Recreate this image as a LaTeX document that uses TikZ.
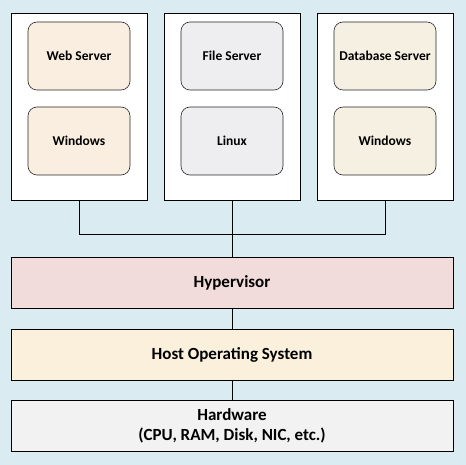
\documentclass[tikz,border=0pt]{standalone}
\usepackage{fontspec}
\setmainfont{Carlito}
\definecolor{bg}{HTML}{DAEBF2}
\definecolor{hyp}{HTML}{F2DCDB}
\definecolor{hos}{HTML}{FAF0DC}
\definecolor{hw}{HTML}{F2F2F2}
\definecolor{peach}{HTML}{F9EEDF}
\definecolor{greyb}{HTML}{EEEEF1}
\definecolor{sand}{HTML}{F5F0E2}
\tikzset{
  x=1pt,y=-1pt,
  vm/.style={draw=black,fill=white,line width=0.8pt},
  inner/.style={draw=black!85,rounded corners=9pt,line width=0.6pt,font=\bfseries\fontsize{13.5}{16}\selectfont},
  layer/.style={draw=black,line width=0.8pt,font=\bfseries\fontsize{17}{20}\selectfont,align=center},
  conn/.style={draw=black,line width=0.8pt}
}
\begin{document}
\begin{tikzpicture}
\fill[bg] (0,0) rectangle (466,465);
\useasboundingbox (0,0) rectangle (466,465);
% VM boxes
\path[vm] (11,13) rectangle (147,200);
\path[vm] (164,13) rectangle (300,200);
\path[vm] (317,13) rectangle (453,200);
\coordinate (vmA) at (79,200);
\coordinate (vmB) at (232,200);
\coordinate (vmC) at (385,200);
% inner boxes
\node[inner,fill=peach,minimum width=102pt,minimum height=68pt] (ws) at (79,56) {Web Server};
\node[inner,fill=peach,minimum width=102pt,minimum height=68pt] (w1) at (79,141) {Windows};
\node[inner,fill=greyb,minimum width=102pt,minimum height=68pt] (fs) at (232,56) {File Server};
\node[inner,fill=greyb,minimum width=102pt,minimum height=68pt] (lx) at (232,141) {Linux};
\node[inner,fill=sand,minimum width=102pt,minimum height=68pt] (ds) at (385,56) {Database Server};
\node[inner,fill=sand,minimum width=102pt,minimum height=68pt] (w2) at (385,141) {Windows};
% layers
\node[layer,fill=hyp,minimum width=442pt,minimum height=51pt] (hyp) at (232,282.5) {Hypervisor};
\node[layer,fill=hos,minimum width=442pt,minimum height=51pt] (hos) at (232,354.5) {Host Operating System};
\node[layer,fill=hw,minimum width=442pt,minimum height=51pt] (hw) at (232,425.5) {Hardware\\(CPU, RAM, Disk, NIC, etc.)};
% connectors
\coordinate (jl) at (79,234);
\coordinate (jr) at (385,234);
\draw[conn] (vmA) -- (jl) -- (jr) -- (vmC);
\draw[conn] (vmB) -- (hyp.north);
\draw[conn] (hyp.south) -- (hos.north);
\draw[conn] (hos.south) -- (hw.north);
\end{tikzpicture}
\end{document}
